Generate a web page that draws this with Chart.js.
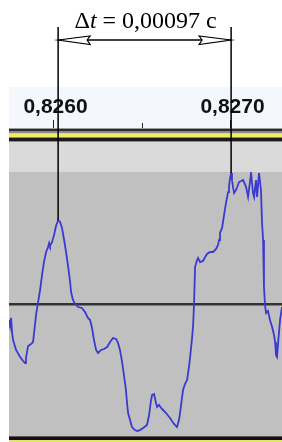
<!DOCTYPE html>
<html>
<head>
<meta charset="utf-8">
<script src="https://cdn.jsdelivr.net/npm/chart.js@4.4.1/dist/chart.umd.min.js"></script>
<style>
  body { margin: 0; background: #fff; }
  canvas { display: block; }
</style>
</head>
<body>
<canvas id="myChart" width="282" height="442"></canvas>
<script>
// time, seconds
const times = [
    0.825749, 0.825755, 0.825761, 0.825766, 0.825772, 0.825789, 0.825812, 0.825829, 0.825840, 0.825845,
    0.825857, 0.825874, 0.825885, 0.825896, 0.825902, 0.825913, 0.825925, 0.825936, 0.825947, 0.825959,
    0.825970, 0.825976, 0.825981, 0.825993, 0.826004, 0.826015, 0.826027, 0.826038, 0.826049, 0.826061,
    0.826072, 0.826083, 0.826095, 0.826100, 0.826111, 0.826123, 0.826140, 0.826162, 0.826179, 0.826196,
    0.826208, 0.826219, 0.826230, 0.826242, 0.826253, 0.826270, 0.826287, 0.826304, 0.826321, 0.826338,
    0.826355, 0.826366, 0.826377, 0.826389, 0.826400, 0.826411, 0.826417, 0.826423, 0.826434, 0.826445,
    0.826462, 0.826474, 0.826491, 0.826508, 0.826530, 0.826542, 0.826553, 0.826559, 0.826570, 0.826581,
    0.826587, 0.826598, 0.826610, 0.826621, 0.826638, 0.826660, 0.826683, 0.826700, 0.826711, 0.826717,
    0.826728, 0.826734, 0.826745, 0.826757, 0.826768, 0.826774, 0.826785, 0.826791, 0.826796, 0.826802,
    0.826813, 0.826819, 0.826830, 0.826847, 0.826859, 0.826870, 0.826887, 0.826904, 0.826921, 0.826932,
    0.826938, 0.826943, 0.826955, 0.826966, 0.826977, 0.826989, 0.826994, 0.827000, 0.827006, 0.827011,
    0.827017, 0.827023, 0.827034, 0.827051, 0.827074, 0.827091, 0.827102, 0.827119, 0.827130, 0.827136,
    0.827147, 0.827153, 0.827164, 0.827175, 0.827181, 0.827187, 0.827192, 0.827198, 0.827204, 0.827215,
    0.827226, 0.827238, 0.827249, 0.827255, 0.827260, 0.827266, 0.827272, 0.827283, 0.827294
];

// signal amplitude, -1..1
const amplitude = [
    -0.121, -0.167, -0.106, -0.212, -0.273, -0.348, -0.402, -0.432, -0.447, -0.409,
    -0.318, -0.303, -0.288, -0.159, -0.083, 0.008, 0.106, 0.220, 0.318, 0.394,
    0.432, 0.462, 0.439, 0.470, 0.523, 0.591, 0.636, 0.621, 0.576, 0.485,
    0.394, 0.288, 0.167, 0.091, 0.030, 0.000, -0.023, -0.030, -0.061, -0.106,
    -0.121, -0.182, -0.273, -0.348, -0.371, -0.348, -0.341, -0.326, -0.288, -0.258,
    -0.265, -0.295, -0.348, -0.439, -0.545, -0.652, -0.750, -0.826, -0.879, -0.932,
    -0.955, -0.962, -0.955, -0.939, -0.917, -0.841, -0.727, -0.689, -0.682, -0.750,
    -0.780, -0.765, -0.788, -0.803, -0.826, -0.864, -0.909, -0.932, -0.879, -0.826,
    -0.712, -0.652, -0.606, -0.576, -0.470, -0.402, -0.258, -0.159, -0.008, 0.280,
    0.333, 0.348, 0.318, 0.326, 0.356, 0.379, 0.394, 0.394, 0.417, 0.447,
    0.485, 0.538, 0.576, 0.674, 0.765, 0.848, 0.886, 0.955, 0.992, 0.939,
    0.886, 0.841, 0.864, 0.924, 0.939, 0.886, 0.811, 0.992, 0.841, 0.811,
    0.939, 0.811, 0.992, 0.864, 0.614, 0.485, 0.129, -0.008, -0.068, -0.053,
    -0.121, -0.174, -0.235, -0.288, -0.386, -0.402, -0.295, -0.121, -0.023
];

// timeline ruler
const tickValues = [0.8260, 0.8265, 0.8270];
const tickLabels = ['0,8260', '', '0,8270'];

// the two peaks that are measured
const markerTimes = [0.826027, 0.827006];
const deltaLabel = ['Δ', 't', ' = 0,00097 c'];

const viewStart = 0.825749;
const viewEnd = 0.827294;

function nearestAmp(t) {
    let best = 0;
    for (let i = 1; i < times.length; i++) {
        if (Math.abs(times[i] - t) < Math.abs(times[best] - t)) best = i;
    }
    return amplitude[best];
}

// grey track, ruler and stripes behind the wave
const trackPlugin = {
    id: 'track',
    beforeDraw(chart) {
        const c = chart.ctx;
        const area = chart.chartArea;
        const x = chart.scales.x, y = chart.scales.y;
        const L = area.left, W = chart.width - L;
        c.save();
        c.fillStyle = '#fff';
        c.fillRect(0, 0, chart.width, chart.height);

        // ruler panel
        c.fillStyle = '#f4f7fc';
        c.fillRect(L, 87, W, 41);

        // stripes under the ruler
        const stripes = [
            [128, 1, '#9a9a9a'], [129, 2, '#2a2a2a'], [131, 2, '#8a8a8a'],
            [133, 1, '#d8d890'], [134, 3, '#eeee66'], [137, 1, '#888'],
            [138, 3, '#1a1a1a'], [141, 1, '#8a8a8a'], [142, area.top - 142, '#dadada']
        ];
        stripes.forEach(s => { c.fillStyle = s[2]; c.fillRect(L, s[0], W, s[1]); });

        // track
        c.fillStyle = '#c0c0c0';
        c.fillRect(L, area.top, W, area.bottom - area.top);
        c.fillStyle = '#555';
        c.fillRect(L, area.bottom, W, 1);
        c.fillStyle = '#111';
        c.fillRect(L, area.bottom + 1, W, 3);
        c.fillStyle = '#e8e070';
        c.fillRect(L, area.bottom + 4, W, 2);

        // zero line
        const y0 = y.getPixelForValue(0);
        c.fillStyle = '#333';
        c.fillRect(L, Math.round(y0) - 1, W, 2.5);

        // ruler ticks and labels
        c.strokeStyle = '#222';
        c.lineWidth = 1;
        c.fillStyle = '#111';
        c.font = 'bold 21px "Liberation Sans", Arial, sans-serif';
        c.textAlign = 'center';
        c.textBaseline = 'alphabetic';
        tickValues.forEach((v, i) => {
            const px = Math.round(x.getPixelForValue(v)) + 0.5;
            const top = tickLabels[i] ? 120 : 123;
            c.beginPath();
            c.moveTo(px, top);
            c.lineTo(px, 128);
            c.stroke();
            if (tickLabels[i]) c.fillText(tickLabels[i], px + 2, 113);
        });
        c.restore();
    }
};

// measurement lines, arrow and label
const measurePlugin = {
    id: 'measure',
    afterDraw(chart) {
        const c = chart.ctx;
        const x = chart.scales.x, y = chart.scales.y;
        const xs = markerTimes.map(t => x.getPixelForValue(t));
        const topY = 27, arrowY = 40;
        c.save();
        c.strokeStyle = '#000';
        c.lineWidth = 1.5;
        markerTimes.forEach((t, i) => {
            c.beginPath();
            c.moveTo(xs[i], topY);
            c.lineTo(xs[i], y.getPixelForValue(nearestAmp(t)));
            c.stroke();
        });

        c.lineWidth = 1.3;
        c.beginPath();
        c.moveTo(xs[0], arrowY);
        c.lineTo(xs[1], arrowY);
        c.stroke();

        // open arrow heads
        function head(tip, dir) {
            c.beginPath();
            c.moveTo(tip, arrowY);
            c.lineTo(tip + dir * 32, arrowY - 4);
            c.lineTo(tip + dir * 29, arrowY);
            c.lineTo(tip + dir * 32, arrowY + 4.5);
            c.closePath();
            c.fillStyle = '#fff';
            c.fill();
            c.lineWidth = 1.2;
            c.stroke();
        }
        head(xs[0], 1);
        head(xs[1], -1);

        // label, italic t
        const fonts = ['24px "Liberation Serif", serif', 'italic 24px "Liberation Serif", serif', '24px "Liberation Serif", serif'];
        let widths = deltaLabel.map((s, i) => { c.font = fonts[i]; return c.measureText(s).width; });
        let total = widths.reduce((a, b) => a + b, 0);
        let cx = (xs[0] + xs[1]) / 2 + 1 - total / 2;
        c.fillStyle = '#000';
        c.textAlign = 'left';
        c.textBaseline = 'alphabetic';
        deltaLabel.forEach((s, i) => {
            c.font = fonts[i];
            c.fillText(s, cx, 28);
            cx += widths[i];
        });
        c.restore();
    }
};

var ctx = document.getElementById('myChart').getContext('2d');
var chart = new Chart(ctx, {
    type: 'line',
    data: {
        datasets: [
        {
            data: times.map((t, i) => ({ x: t, y: amplitude[i] })),
            borderColor: '#3a3ad0',
            borderWidth: 1.8,
            pointRadius: 0,
            tension: 0,
            fill: false
        }
      ]
    },
    options: {
        responsive: false,
        animation: false,
        events: [],
        layout: { padding: { left: 9, right: 0, top: 172, bottom: 6 } },
        plugins: { legend: { display: false }, tooltip: { enabled: false } },
        scales: {
            x: { type: 'linear', min: viewStart, max: viewEnd, display: false },
            y: { min: -1, max: 1, display: false }
        }
    },
    plugins: [trackPlugin, measurePlugin]
});
</script>
</body>
</html>
